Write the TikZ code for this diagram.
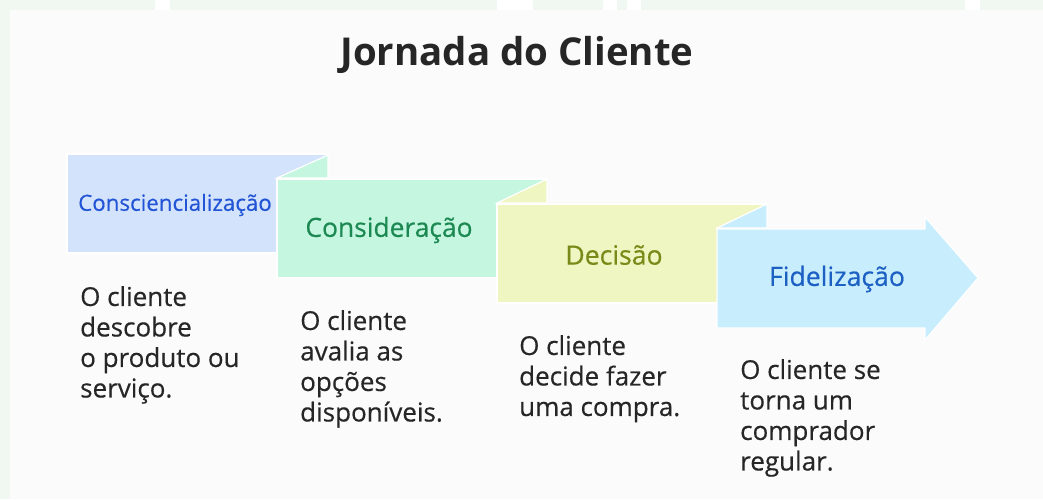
\documentclass[tikz,border=0pt]{standalone}
\usepackage{fontspec}
\setmainfont{Open Sans}
\definecolor{bgG}{HTML}{F1F8F1}
\definecolor{panel}{HTML}{FBFBFB}
\definecolor{bFill}{HTML}{D3E3FB}
\definecolor{bText}{HTML}{2254D6}
\definecolor{gFill}{HTML}{C5F7E0}
\definecolor{gText}{HTML}{1C8852}
\definecolor{yFill}{HTML}{EFF6C1}
\definecolor{yText}{HTML}{788A18}
\definecolor{cFill}{HTML}{C8EEFD}
\definecolor{cText}{HTML}{1D60C4}
\definecolor{ink}{HTML}{262626}
\tikzset{
  seg/.style={draw=white, line width=1.2pt},
  lbl/.style={inner sep=0pt, anchor=center},
  desc/.style={inner sep=0pt, anchor=north west, align=left, text=ink,
    font=\fontsize{26}{30.5}\selectfont\addfontfeature{FakeBold=0.4}},
}
\begin{document}
\begin{tikzpicture}[x=1pt,y=-1pt]
\useasboundingbox (0,0) rectangle (1043,499);
% background
\fill[bgG] (0,0) rectangle (1043,499);
\fill[white] (155,0) rectangle (170,10);
\fill[white] (497,0) rectangle (533,10);
\fill[white] (603,0) rectangle (617,10);
\fill[white] (627,0) rectangle (641,10);
\fill[white] (965,0) rectangle (980,10);
\fill[panel] (10,10) rectangle (1043,499);
% segment 1
\filldraw[seg, fill=bFill] (67,154) rectangle (328,253);
% segment 2
\filldraw[seg, fill=gFill] (277,178) -- (328,155) -- (328,178) -- cycle;
\filldraw[seg, fill=gFill] (277,179) rectangle (547,278);
% segment 3
\filldraw[seg, fill=yFill] (497,203) -- (547,179) -- (547,203) -- cycle;
\filldraw[seg, fill=yFill] (497,204) rectangle (767,303);
% segment 4 (arrow)
\filldraw[seg, fill=cFill] (717,228) -- (767,204) -- (767,228) -- cycle;
\filldraw[seg, fill=cFill] (717,229) -- (925,229) -- (925,217) -- (978,278)
   -- (925,340) -- (925,328) -- (717,328) -- cycle;
% labels
\node[lbl, text=ink, font=\fontsize{38.4}{44}\selectfont\bfseries] (title) at (517,55) {Jornada do Cliente};
\node[lbl, text=bText, font=\fontsize{22.3}{26}\selectfont\addfontfeature{FakeBold=0.4}] (l1) at (175,205) {Consciencialização};
\node[lbl, text=gText, font=\fontsize{26.4}{30}\selectfont\addfontfeature{FakeBold=0.4}] (l2) at (389,230) {Consideração};
\node[lbl, text=yText, font=\fontsize{26.6}{30}\selectfont\addfontfeature{FakeBold=0.4}] (l3) at (614,255) {Decisão};
\node[lbl, text=cText, font=\fontsize{26.6}{30}\selectfont\addfontfeature{FakeBold=0.4}] (l4) at (837,279) {Fidelização};
% descriptions
\node[desc] (d1) at (80,286) {O cliente\\descobre\\o produto ou\\serviço.};
\node[desc] (d2) at (300,310) {O cliente\\avalia as\\opções\\disponíveis.};
\node[desc] (d3) at (519,335) {O cliente\\decide fazer\\uma compra.};
\node[desc] (d4) at (740,359) {O cliente se\\torna um\\comprador\\regular.};
\end{tikzpicture}
\end{document}
